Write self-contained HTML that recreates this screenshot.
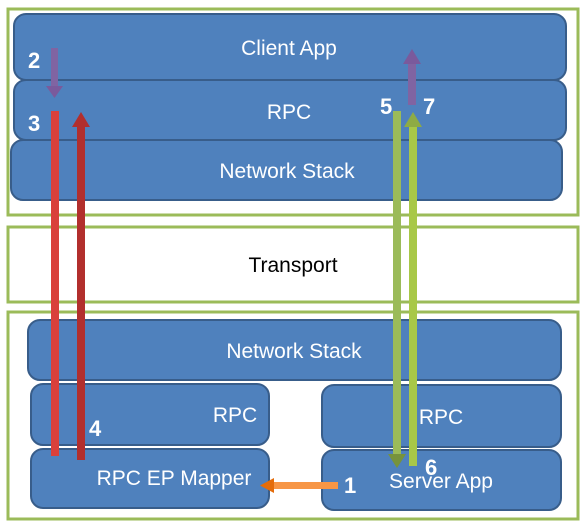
<!DOCTYPE html>
<html><head><style>body{margin:0;background:#fff}svg{display:block}</style></head><body>
<svg width="585" height="526" viewBox="0 0 585 526" xmlns="http://www.w3.org/2000/svg" font-family="Liberation Sans, sans-serif">
<g fill="#fff" stroke="#9bbb59" stroke-width="3">
<rect x="8" y="9" width="570" height="206"/>
<rect x="8" y="227" width="570" height="75"/>
<rect x="8" y="312" width="570" height="207"/>
</g>
<g fill="#4f81bd" stroke="#385d8a" stroke-width="2">
<rect x="14" y="14" width="552" height="66" rx="12"/>
<rect x="14" y="80" width="552" height="60" rx="12"/>
<rect x="11" y="140" width="551" height="60" rx="12"/>
<rect x="28" y="320" width="533" height="60" rx="12"/>
<rect x="31" y="384" width="238" height="61" rx="12"/>
<rect x="322" y="385" width="239" height="62" rx="12"/>
<rect x="31" y="449" width="238" height="59" rx="12"/>
<rect x="322" y="450" width="239" height="60" rx="12"/>
</g>
<g fill="#fff" font-size="21" text-anchor="middle">
<text x="289" y="55">Client App</text>
<text x="289" y="119">RPC</text>
<text x="287" y="178">Network Stack</text>
<text x="294" y="358">Network Stack</text>
<text x="235" y="422">RPC</text>
<text x="441" y="424">RPC</text>
<text x="174" y="485">RPC EP Mapper</text>
<text x="441" y="488">Server App</text>
</g>
<text x="293" y="272" font-size="21" text-anchor="middle" fill="#000">Transport</text>
<g>
<rect x="51" y="48" width="7" height="40" fill="#8064a2"/><polygon points="46,86 63,86 54.5,98" fill="#7a5a9c"/>
<rect x="51" y="111" width="8" height="345" fill="#d9403b"/>
<rect x="77" y="126" width="8" height="334" fill="#b22f2d"/><polygon points="72,127 90,127 81,112" fill="#b22f2d"/>
<rect x="393" y="111" width="8" height="345" fill="#9bbb59"/><polygon points="388,454 406,454 397,468" fill="#77933c"/>
<rect x="409" y="126" width="8" height="340" fill="#a8c848"/><polygon points="404,127 422,127 413,112" fill="#8eab45"/>
<rect x="408" y="63" width="8" height="42" fill="#8064a2"/><polygon points="403,64 421,64 412,49" fill="#7a5a9c"/>
<rect x="272" y="482" width="66" height="7" fill="#f79646"/><polygon points="274,478 274,493 260,485.5" fill="#e46c0a"/>
</g>
<g fill="#fff" font-size="22" font-weight="bold">
<text x="28" y="68">2</text>
<text x="28" y="131">3</text>
<text x="380" y="114">5</text>
<text x="423" y="114">7</text>
<text x="89" y="436">4</text>
<text x="344" y="493">1</text>
<text x="425" y="475">6</text>
</g>
</svg>
</body></html>
